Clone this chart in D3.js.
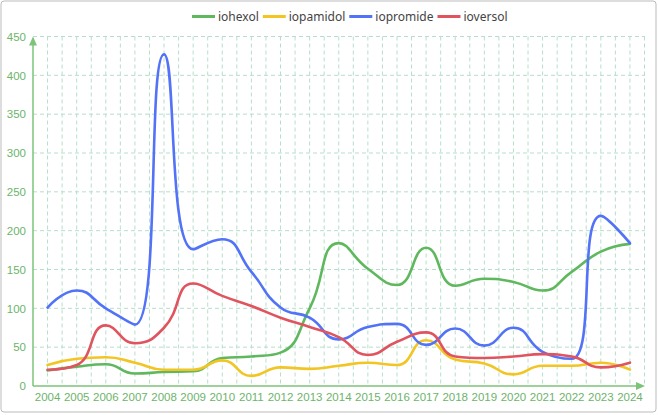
<!DOCTYPE html>
<html><head><meta charset="utf-8">
<script src="https://cdn.jsdelivr.net/npm/d3@7"></script>
<style>
html,body{margin:0;padding:0;background:#fff;}
svg{display:block;font-family:"Noto Sans","DejaVu Sans",sans-serif;}
</style></head>
<body><svg id="c" width="658" height="415"></svg>
<script>
const years = ["2004","2005","2006","2007","2008","2009","2010","2011","2012","2013","2014","2015","2016","2017","2018","2019","2020","2021","2022","2023","2024"];
const iohexol   = [20,25,28,16,18,19,36,38,43,100,184,151,130,178,129,138,134,123,147,173,183];
const iopamidol = [27,35,37,30,21,21,33,13,24,22,26,30,27,59,34,29,15,26,26,30,21];
const iopromide = [101,123,100,79,427,176,189,147,101,88,60,76,80,53,74,52,75,44,35,219,184];
const ioversol  = [21,27,78,55,75,132,116,103,88,76,63,40,57,69,38,36,38,41,38,24,30];
const seriesNames = ["iohexol","iopamidol","iopromide","ioversol"];
const seriesColors = ["#5fb85d","#f2c523","#5272f7","#e0545f"];
const yTicks = [0,50,100,150,200,250,300,350,400,450];
const seriesData = [iohexol, iopamidol, iopromide, ioversol];

// ECharts-like smooth curve (control points clamped between neighbours)
function smoothCurve(context){
  let pts = [];
  const sm = 0.5;
  const clamp = (v,a,b)=>Math.max(Math.min(a,b),Math.min(Math.max(a,b),v));
  return {
    areaStart(){}, areaEnd(){},
    lineStart(){ pts = []; },
    point(x,y){ pts.push([+x,+y]); },
    lineEnd(){
      if(!pts.length) return;
      context.moveTo(pts[0][0],pts[0][1]);
      let cpx0 = pts[0][0], cpy0 = pts[0][1];
      for(let i=0;i<pts.length-1;i++){
        const [x,y] = pts[i+1];
        let cpx1=x, cpy1=y, ncx=x, ncy=y;
        if(i+2<pts.length){
          const [px,py] = pts[i], [nx,ny] = pts[i+2];
          let vx = nx-px, vy = ny-py;
          const lp = Math.hypot(x-px,y-py), ln = Math.hypot(nx-x,ny-y);
          const r = (lp+ln)>0 ? ln/(ln+lp) : 0.5;
          ncx = x + vx*sm*r; ncy = y + vy*sm*r;
          ncx = clamp(ncx,x,nx); ncy = clamp(ncy,y,ny);
          vx = ncx-x; vy = ncy-y;
          cpx1 = x - vx*lp/ln; cpy1 = y - vy*lp/ln;
          cpx1 = clamp(cpx1,px,x); cpy1 = clamp(cpy1,py,y);
          vx = x-cpx1; vy = y-cpy1;
          ncx = x + vx*ln/lp; ncy = y + vy*ln/lp;
        }
        context.bezierCurveTo(cpx0,cpy0,cpx1,cpy1,x,y);
        cpx0 = ncx; cpy0 = ncy;
      }
    }
  };
}

const svg = d3.select("#c");
const W = 658, H = 415;
const L = 33, R = 645, T = 36.5, B = 386;

svg.append("rect").attr("x",1).attr("y",1).attr("width",W-3).attr("height",H-4)
  .attr("rx",3).attr("fill","#fff").attr("stroke","#bbb").attr("stroke-width",1);

const x = d3.scaleBand().domain(years).range([L, R - 0.5]);
const xc = d => x(d) + x.bandwidth()/2;
const y = d3.scaleLinear().domain([0,450]).range([B, T]);

const grid = svg.append("g");
const gridColor = "#b6dfcb";
yTicks.filter(v=>v>0).forEach(v=>{
  grid.append("line").attr("x1",L).attr("x2",R).attr("y1",y(v)).attr("y2",y(v))
    .attr("stroke",gridColor).attr("stroke-dasharray","4,3");
});
const vx = [];
years.forEach(d=>{ vx.push(xc(d)); vx.push(x(d)+x.bandwidth()); });
vx.forEach(px=>{
  grid.append("line").attr("x1",px).attr("x2",px).attr("y1",T).attr("y2",B)
    .attr("stroke",gridColor).attr("stroke-dasharray","4,3");
});

const axisColor = "#7cc47a";
const labelColor = "#6cb46a";
const yAxis = d3.axisLeft(y).tickValues(yTicks).tickSize(0).tickPadding(7);
const gy = svg.append("g").attr("transform",`translate(${L},0)`).call(yAxis);
gy.select(".domain").remove();
gy.selectAll("text").attr("fill",labelColor).attr("font-size",11.5);
svg.append("line").attr("x1",L).attr("x2",L).attr("y1",B).attr("y2",T+5)
  .attr("stroke",axisColor).attr("stroke-width",1.5);
svg.append("path").attr("d",`M${L},${T} L${L-4},${T+9} L${L+4},${T+9} Z`).attr("fill",axisColor);

const xAxis = d3.axisBottom(x).tickSize(0).tickPadding(7);
const gx = svg.append("g").attr("transform",`translate(0,${B})`).call(xAxis);
gx.select(".domain").remove();
gx.selectAll("text").attr("fill",labelColor).attr("font-size",11.5);
svg.append("line").attr("x1",L).attr("x2",R-5).attr("y1",B).attr("y2",B)
  .attr("stroke",axisColor).attr("stroke-width",1.5);
svg.append("path").attr("d",`M${R},${B} L${R-9},${B-4} L${R-9},${B+4} Z`).attr("fill",axisColor);

const line = d3.line().x((d,i)=>xc(years[i])).y(d=>y(d)).curve(smoothCurve);
seriesData.forEach((s,k)=>{
  svg.append("path").datum(s).attr("d",line).attr("fill","none")
    .attr("stroke",seriesColors[k]).attr("stroke-width",2.6).attr("stroke-linecap","round");
});

const lg = svg.append("g");
let lx = 192;
const legY = 16.5;
seriesNames.forEach((n,k)=>{
  lg.append("line").attr("x1",lx).attr("x2",lx+23).attr("y1",legY).attr("y2",legY)
    .attr("stroke",seriesColors[k]).attr("stroke-width",3);
  const t = lg.append("text").attr("x",lx+26).attr("y",legY+4).text(n)
    .attr("font-size",12).attr("fill","#444");
  lx = lx + 26 + t.node().getComputedTextLength() + 4;
});
</script></body></html>
